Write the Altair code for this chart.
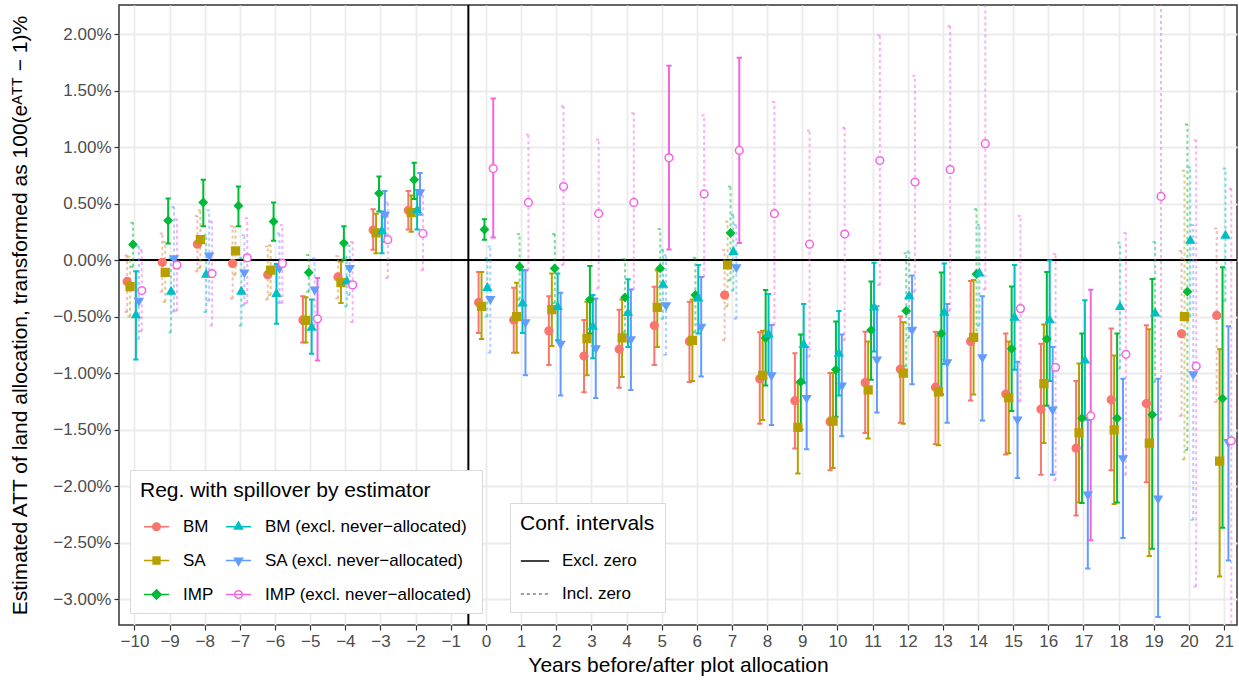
import altair as alt
import pandas as pd

# Event-time grid (the reference year -1 is omitted)
years = [-10, -9, -8, -7, -6, -5, -4, -3, -2,
         0, 1, 2, 3, 4, 5, 6, 7, 8, 9, 10,
         11, 12, 13, 14, 15, 16, 17, 18, 19, 20, 21]

series_names = [
    "BM", "SA", "IMP",
    "BM (excl. never\u2212allocated)",
    "SA (excl. never\u2212allocated)",
    "IMP (excl. never\u2212allocated)",
]
series_colors = ["#F8766D", "#B79F00", "#00BA38", "#00BFC4", "#619CFF", "#F564E3"]
series_fills = ["#F8766D", "#B79F00", "#00BA38", "#00BFC4", "#619CFF", "#FFFFFF"]
series_shapes = ["circle", "square", "diamond", "triangle-up", "triangle-down", "circle"]

# Legend keys: a short horizontal line with the point symbol on top.
# Solid symbols are drawn as nested outlines so that stroke alone fills them.
key_shapes = [
    "M-3,0H3M0.9,0A0.9,0.9 0 1,1 -0.9,0A0.9,0.9 0 1,1 0.9,0"
    "M0.52,0A0.52,0.52 0 1,1 -0.52,0A0.52,0.52 0 1,1 0.52,0"
    "M0.15,0A0.15,0.15 0 1,1 -0.15,0A0.15,0.15 0 1,1 0.15,0",
    "M-3,0H3M-0.8,-0.8H0.8V0.8H-0.8Z"
    "M-0.42,-0.42H0.42V0.42H-0.42Z"
    "M-0.06,-0.06H0.06V0.06H-0.06Z",
    "M-3,0H3M0,-1.1L1.1,0L0,1.1L-1.1,0Z"
    "M0,-0.6L0.6,0L0,0.6L-0.6,0Z"
    "M0,-0.12L0.12,0L0,0.12L-0.12,0Z",
    "M-3,0H3M0,-1.1L0.95,0.55H-0.95Z"
    "M0,-0.6L0.52,0.3H-0.52Z"
    "M0,-0.17L0.14,0.08H-0.14Z",
    "M-3,0H3M0,1.1L0.95,-0.55H-0.95Z"
    "M0,0.6L0.52,-0.3H-0.52Z"
    "M0,0.17L0.14,-0.08H-0.14Z",
    "M-3,0H3M0.9,0A0.9,0.9 0 1,1 -0.9,0A0.9,0.9 0 1,1 0.9,0",
]

# Estimates and 95% bounds, in percent
bm_est = [-0.19, -0.02, 0.14, -0.03, -0.13, -0.53, -0.15, 0.265, 0.44,
          -0.375, -0.53, -0.627, -0.85, -0.79, -0.58, -0.72, -0.31, -1.05, -1.245, -1.43,
          -1.085, -0.966, -1.125, -0.72, -1.186, -1.32, -1.665, -1.237, -1.27, -0.653, -0.49]
bm_hi = [0.04, 0.235, 0.39, 0.30, 0.12, -0.32, 0.035, 0.45, 0.61,
         -0.107, -0.245, -0.32, -0.53, -0.44, -0.236, -0.37, 0.09, -0.64, -0.826, -1.00,
         -0.634, -0.50, -0.634, -0.186, -0.65, -0.74, -1.07, -0.606, -0.577, 0.08, 0.28]
bm_lo = [-0.46, -0.28, -0.10, -0.34, -0.35, -0.73, -0.34, 0.09, 0.27,
         -0.645, -0.82, -0.93, -1.17, -1.13, -0.93, -1.08, -0.71, -1.45, -1.667, -1.86,
         -1.53, -1.44, -1.63, -1.244, -1.72, -1.90, -2.26, -1.86, -1.967, -1.38, -1.256]

sa_est = [-0.235, -0.11, 0.18, 0.08, -0.09, -0.535, -0.20, 0.24, 0.42,
          -0.41, -0.50, -0.44, -0.695, -0.69, -0.42, -0.71, -0.044, -1.02, -1.48, -1.425,
          -1.15, -1.00, -1.166, -0.685, -1.217, -1.094, -1.53, -1.504, -1.62, -0.50, -1.78]
sa_hi = [0.03, 0.16, 0.44, 0.29, 0.13, -0.33, -0.015, 0.41, 0.57,
         -0.107, -0.20, -0.12, -0.37, -0.35, -0.09, -0.35, 0.34, -0.625, -1.085, -1.00,
         -0.72, -0.55, -0.67, -0.176, -0.72, -0.57, -0.916, -0.845, -0.613, 0.79, -0.79]
sa_lo = [-0.50, -0.37, -0.07, -0.13, -0.31, -0.73, -0.38, 0.06, 0.25,
         -0.70, -0.82, -0.76, -1.02, -1.035, -0.77, -1.07, -0.41, -1.415, -1.89, -1.84,
         -1.58, -1.45, -1.64, -1.19, -1.71, -1.62, -2.145, -2.16, -2.62, -1.765, -2.80]

imp_est = [0.138, 0.35, 0.51, 0.48, 0.34, -0.11, 0.15, 0.59, 0.71,
           0.27, -0.06, -0.074, -0.35, -0.33, -0.074, -0.31, 0.24, -0.69, -1.077, -0.97,
           -0.62, -0.45, -0.65, -0.124, -0.786, -0.70, -1.40, -1.40, -1.37, -0.28, -1.226]
imp_hi = [0.33, 0.545, 0.71, 0.65, 0.51, 0.045, 0.30, 0.74, 0.86,
          0.36, 0.23, 0.23, -0.053, 0.01, 0.276, 0.02, 0.65, -0.265, -0.66, -0.545,
          -0.19, 0.06, -0.11, 0.45, -0.235, -0.107, -0.65, -0.65, -0.167, 1.20, -0.065]
imp_lo = [-0.06, 0.147, 0.30, 0.30, 0.17, -0.28, 0.005, 0.43, 0.54,
          0.18, -0.35, -0.38, -0.65, -0.64, -0.42, -0.64, -0.18, -1.11, -1.50, -1.386,
          -1.06, -0.94, -1.19, -0.685, -1.336, -1.29, -2.15, -2.145, -2.555, -1.68, -2.37]

bmx_est = [-0.48, -0.27, -0.12, -0.27, -0.29, -0.59, -0.18, 0.265, 0.45,
           -0.237, -0.376, -0.405, -0.58, -0.46, -0.21, -0.33, 0.08, -0.65, -0.74, -0.82,
           -0.41, -0.31, -0.456, -0.11, -0.50, -0.524, -0.88, -0.406, -0.463, 0.18, 0.224]
bmx_hi = [-0.10, 0.015, 0.22, 0.02, -0.035, -0.35, 0.03, 0.43, 0.62,
          0.015, -0.09, -0.12, -0.31, -0.17, 0.09, -0.044, 0.40, -0.30, -0.39, -0.45,
          -0.024, 0.074, -0.03, 0.31, -0.044, -0.005, -0.356, 0.153, 0.16, 0.82, 0.81]
bmx_lo = [-0.88, -0.64, -0.46, -0.58, -0.565, -0.83, -0.41, 0.06, 0.27,
          -0.50, -0.645, -0.71, -0.87, -0.77, -0.52, -0.65, -0.27, -1.00, -1.09, -1.20,
          -0.81, -0.69, -0.92, -0.58, -0.97, -1.07, -1.40, -0.96, -1.08, -0.50, -0.36]

sax_est = [-0.37, 0.005, 0.03, -0.12, -0.08, -0.27, -0.08, 0.39, 0.59,
           -0.355, -0.56, -0.75, -0.79, -0.71, -0.41, -0.60, -0.074, -1.03, -1.23, -1.12,
           -0.89, -0.627, -0.915, -0.87, -1.42, -1.333, -2.085, -1.764, -2.12, -1.02, -1.62]
sax_hi = [0.12, 0.47, 0.44, 0.22, 0.235, 0.015, 0.13, 0.61, 0.77,
          0.12, -0.09, -0.29, -0.34, -0.26, 0.044, -0.15, 0.31, -0.575, -0.77, -0.66,
          -0.41, -0.136, -0.39, -0.32, -0.90, -0.77, -1.415, -1.05, -1.05, 0.31, -0.585]
sax_lo = [-0.70, -0.455, -0.36, -0.40, -0.38, -0.58, -0.31, 0.16, 0.40,
          -0.82, -1.02, -1.20, -1.22, -1.15, -0.84, -1.03, -0.52, -1.46, -1.675, -1.56,
          -1.35, -1.10, -1.44, -1.42, -1.93, -1.90, -2.73, -2.46, -3.16, -2.30, -2.66]

impx_est = [-0.27, -0.045, -0.12, 0.02, -0.03, -0.52, -0.22, 0.18, 0.235,
            0.81, 0.51, 0.65, 0.41, 0.51, 0.905, 0.585, 0.97, 0.41, 0.14, 0.23,
            0.88, 0.69, 0.80, 1.03, -0.43, -0.95, -1.38, -0.834, 0.563, -0.94, -1.60]
impx_hi = [0.09, 0.36, 0.34, 0.37, 0.31, -0.16, 0.16, 0.51, 0.57,
           1.43, 1.11, 1.36, 1.065, 1.30, 1.72, 1.28, 1.79, 1.40, 1.145, 1.17,
           1.99, 1.63, 2.07, 2.30, 0.39, 0.053, -0.264, 0.24, 2.55, 1.06, 0.63]
impx_lo = [-0.63, -0.45, -0.58, -0.38, -0.38, -0.89, -0.55, -0.16, -0.09,
           0.20, -0.09, -0.044, -0.25, -0.26, 0.094, -0.15, 0.15, -0.575, -0.855, -0.71,
           -0.22, -0.28, -0.45, -0.26, -1.25, -1.95, -2.48, -1.90, -1.415, -2.89, -3.80]

series_values = [
    (bm_est, bm_lo, bm_hi),
    (sa_est, sa_lo, sa_hi),
    (imp_est, imp_lo, imp_hi),
    (bmx_est, bmx_lo, bmx_hi),
    (sax_est, sax_lo, sax_hi),
    (impx_est, impx_lo, impx_hi),
]

rows = []
for idx, (name, (est, lo, hi)) in enumerate(zip(series_names, series_values)):
    for yr, e, l, h in zip(years, est, lo, hi):
        rows.append({"year": yr, "series": name, "idx": idx, "est": e, "lo": l, "hi": h})
df = pd.DataFrame(rows)

idx_domain = list(range(len(series_names)))
ci_order = ["Excl. zero", "Incl. zero"]

FONT = "Liberation Sans"

x_scale = alt.Scale(domain=[-10.44, 21.37], nice=False, zero=False)
y_scale = alt.Scale(domain=[-3.23, 2.257], nice=False, zero=False)

x_axis = alt.Axis(values=list(range(-10, 22)), labelOverlap=False, labelSeparation=0,
                  labelExpr="replace(format(datum.value, 'd'), '-', '\u2212')",
                  title="Years before/after plot allocation", titlePadding=5)
y_axis = alt.Axis(values=[-3, -2.5, -2, -1.5, -1, -0.5, 0, 0.5, 1, 1.5, 2], labelOverlap=False,
                  labelExpr="replace(format(datum.value, '.2f'), '-', '\u2212') + '%'",
                  title="Estimated ATT of land allocation, transformed as 100(e\u1D2C\u1D40\u1D40 \u2212 1)%",
                  titlePadding=22)

base = alt.Chart(df).transform_calculate(
    xd="datum.year + (datum.idx - 2.5) * 0.5 / 6",
    xl="datum.year + (datum.idx - 2.5) * 0.5 / 6 - 0.075",
    xr="datum.year + (datum.idx - 2.5) * 0.5 / 6 + 0.075",
    ci="(datum.hi < 0 || datum.lo > 0) ? 'Excl. zero' : 'Incl. zero'",
)

ci_legend = alt.Legend(title="Conf. intervals", orient="none", legendX=391, legendY=498,
                       symbolType="stroke", symbolSize=800, symbolStrokeColor="black",
                       symbolStrokeWidth=1.5, labelOffset=12, rowPadding=10,
                       titlePadding=12, padding=10)

dash = alt.StrokeDash("ci:N", scale=alt.Scale(domain=ci_order, range=[[1, 0], [3, 3]]),
                      legend=ci_legend)
opac = alt.Opacity("ci:N", scale=alt.Scale(domain=ci_order, range=[1.0, 0.5]),
                   legend=ci_legend)

# marks are styled by series index; the series legend comes from its own layer
idx_color = alt.Color("idx:N", scale=alt.Scale(domain=idx_domain, range=series_colors),
                      legend=None)

zero_line = alt.Chart(pd.DataFrame({"v": [0.0]})).mark_rule(
    color="black", strokeWidth=2).encode(y=alt.Y("v:Q", scale=y_scale, axis=y_axis))
alloc_line = alt.Chart(pd.DataFrame({"v": [-0.5]})).mark_rule(
    color="black", strokeWidth=2).encode(x=alt.X("v:Q", scale=x_scale, axis=x_axis))

bars = base.mark_rule(strokeWidth=2, clip=True).encode(
    x=alt.X("xd:Q", scale=x_scale, axis=x_axis),
    y=alt.Y("lo:Q", scale=y_scale, axis=y_axis),
    y2="hi:Q",
    color=idx_color, strokeDash=dash, opacity=opac,
)
cap_hi = base.mark_rule(strokeWidth=2, clip=True).encode(
    x=alt.X("xl:Q", scale=x_scale, axis=x_axis), x2="xr:Q",
    y=alt.Y("hi:Q", scale=y_scale, axis=y_axis),
    color=idx_color, strokeDash=dash, opacity=opac,
)
cap_lo = base.mark_rule(strokeWidth=2, clip=True).encode(
    x=alt.X("xl:Q", scale=x_scale, axis=x_axis), x2="xr:Q",
    y=alt.Y("lo:Q", scale=y_scale, axis=y_axis),
    color=idx_color, strokeDash=dash, opacity=opac,
)

points = base.mark_point(size=60, strokeWidth=1.5, filled=False, opacity=1).encode(
    x=alt.X("xd:Q", scale=x_scale, axis=x_axis),
    y=alt.Y("est:Q", scale=y_scale, axis=y_axis),
    color=idx_color,
    shape=alt.Shape("idx:N", scale=alt.Scale(domain=idx_domain, range=series_shapes),
                    legend=None),
    fill=alt.Fill("idx:N", scale=alt.Scale(domain=idx_domain, range=series_fills),
                  legend=None),
)

series_legend = alt.Legend(title="Reg. with spillover by estimator", orient="none",
                           legendX=11, legendY=465, columns=2, symbolSize=70,
                           symbolStrokeWidth=1.6, symbolOffset=8, labelOffset=18,
                           rowPadding=16, columnPadding=8, titlePadding=17, padding=10)

# legend-only layer (draws no marks)
legend_keys = base.transform_filter("false").mark_point(
    size=70, strokeWidth=1.6, filled=False, opacity=1
).encode(
    x=alt.X("xd:Q", scale=x_scale, axis=x_axis),
    y=alt.Y("est:Q", scale=y_scale, axis=y_axis),
    color=alt.Color("series:N", scale=alt.Scale(domain=series_names, range=series_colors),
                    legend=series_legend),
    shape=alt.Shape("series:N", scale=alt.Scale(domain=series_names, range=key_shapes),
                    legend=series_legend),
)

chart = alt.layer(zero_line, alloc_line, bars, cap_hi, cap_lo, points, legend_keys).resolve_scale(
    shape="independent", color="independent"
).properties(
    width=1118, height=620,
    autosize=alt.AutoSizeParams(type="none"),
    padding={"left": 119, "top": 5, "right": 2, "bottom": 58},
).configure_view(
    stroke="#333333", strokeWidth=1.5
).configure_axis(
    grid=True, gridColor="#EBEBEB", gridWidth=1.8, domain=False,
    tickColor="#333333", tickSize=5, tickWidth=1.2,
    labelFont=FONT, labelFontSize=17, labelColor="#4D4D4D", labelPadding=3,
    titleFont=FONT, titleFontSize=21, titleFontWeight="normal", titleColor="black",
).configure_axisX(
    labelOverlap=False, labelSeparation=0
).configure_legend(
    labelFont=FONT, labelFontSize=17, labelColor="black", labelLimit=400,
    titleFont=FONT, titleFontSize=21, titleFontWeight="normal", titleColor="black",
    titleLimit=500, strokeColor="#D9D9D9", fillColor="white", cornerRadius=0,
)

chart.save("out.html", embed_options={"renderer": "svg", "actions": False})
